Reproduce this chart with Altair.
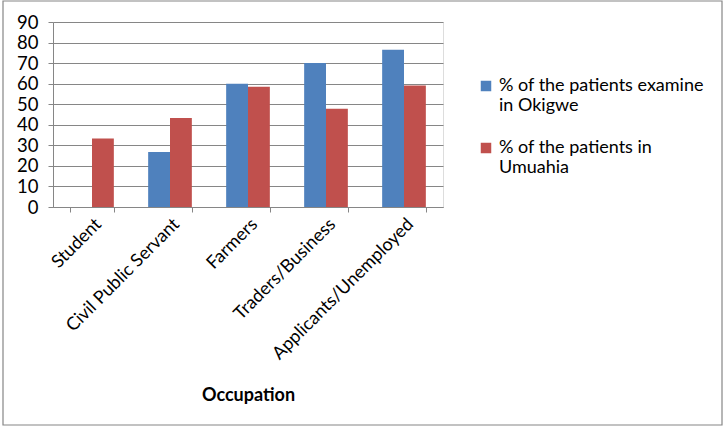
import altair as alt
import pandas as pd

occupations = ["Student", "Civil Public Servant", "Farmers", "Traders/Business", "Applicants/Unemployed"]
okigwe = [None, 26.7, 60.0, 70.0, 76.5]
umuahia = [33.3, 43.3, 58.5, 47.8, 59.1]
series_names = ["% of the patients examine|in Okigwe", "% of the patients in|Umuahia"]
colors = ["#4F81BD", "#C0504D"]
y_ticks = [0, 10, 20, 30, 40, 50, 60, 70, 80, 90]

rows = []
for occ, a, b in zip(occupations, okigwe, umuahia):
    if a is not None:
        rows.append({"Occupation": occ, "Series": series_names[0], "Value": a})
    rows.append({"Occupation": occ, "Series": series_names[1], "Value": b})
df = pd.DataFrame(rows)

FONT = "Lato"

bars = alt.Chart(df).mark_bar().encode(
    x=alt.X("Occupation:N", sort=occupations,
            scale=alt.Scale(paddingInner=0.44, paddingOuter=0.22),
            axis=alt.Axis(title="Occupation", labelAngle=-45, labelFontSize=18,
                          labelFont=FONT, labelColor="#000", labelLimit=400, titleFont=FONT,
                          titleFontSize=18, titleFontWeight="bold", titleColor="#000",
                          tickBand="extent", tickSize=5, tickColor="#868686",
                          domainColor="#868686", labelPadding=3, titlePadding=24)),
    xOffset=alt.XOffset("Series:N", sort=series_names,
                        scale=alt.Scale(paddingInner=0, paddingOuter=0)),
    y=alt.Y("Value:Q", scale=alt.Scale(domain=[0, 90], nice=False),
            axis=alt.Axis(title=None, values=y_ticks, labelFontSize=18.5, labelFont=FONT,
                          labelColor="#000", gridColor="#868686", tickColor="#868686",
                          domainColor="#868686", tickSize=5, labelPadding=10)),
    color=alt.Color("Series:N", sort=series_names,
                    scale=alt.Scale(domain=series_names, range=colors),
                    legend=alt.Legend(title=None, orient="none", legendX=424, legendY=55,
                                      labelExpr="split(datum.label, '|')",
                                      labelFont=FONT, labelFontSize=18, labelColor="#000",
                                      labelLimit=400, symbolType="square", symbolSize=110,
                                      symbolStrokeWidth=0, rowPadding=24, labelOffset=4,
                                      labelBaseline="middle")),
)

frame_df = pd.DataFrame({"k": [0]})
frame = alt.Chart(frame_df).mark_rect(fill=None, stroke="#868686", strokeWidth=1.2, clip=False).encode(
    x=alt.value(-50), x2=alt.value(669), y=alt.value(-21), y2=alt.value(403)
)

chart = alt.layer(bars, frame).properties(
    width=390, height=185,
    padding={"left": 53, "top": 22, "right": 284, "bottom": 225},
    autosize=alt.AutoSizeParams(type="none"),
).configure_view(stroke=None).configure(background="white")

chart.save("out.html", embed_options={"renderer": "svg", "actions": False})
